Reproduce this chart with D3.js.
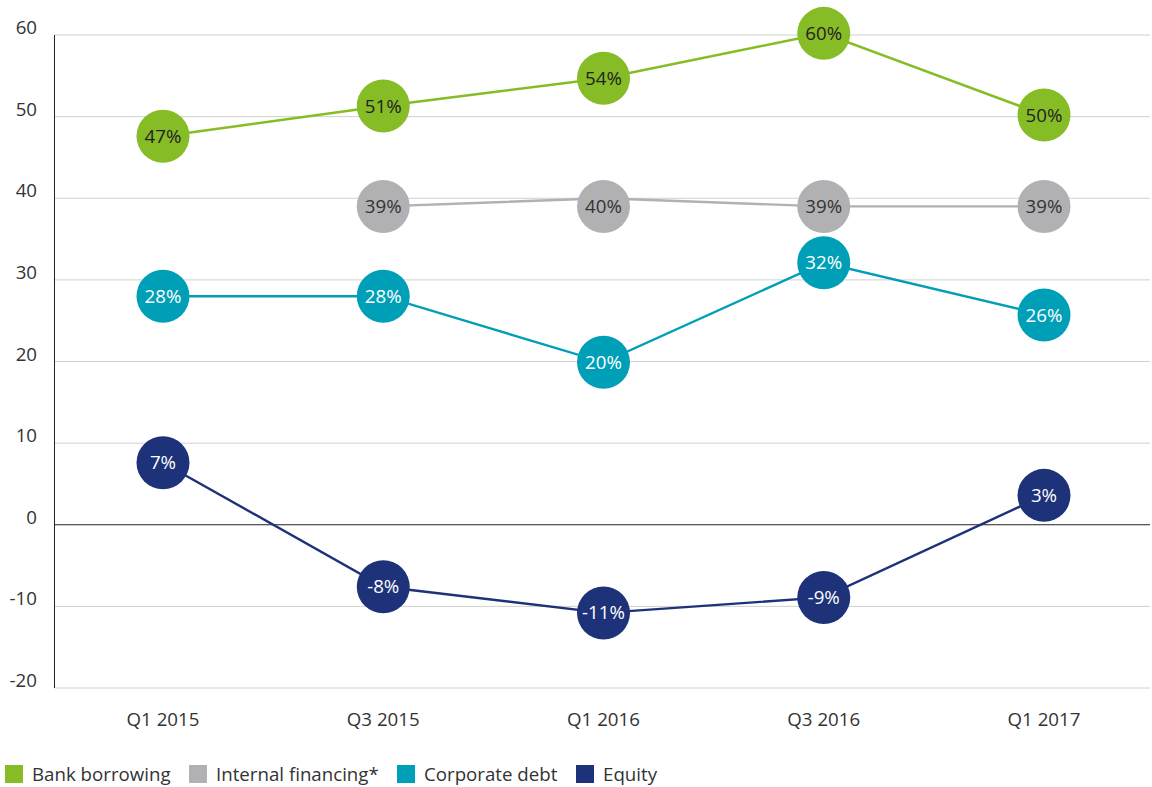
<!DOCTYPE html>
<html><head><meta charset="utf-8">
<script src="https://cdn.jsdelivr.net/npm/d3@7"></script>
<style>body{margin:0;background:#fff;font-family:"Open Sans",sans-serif;}</style>
</head><body><svg id="c" width="1152" height="787"></svg>
<script>
const categories = ["Q1 2015","Q3 2015","Q1 2016","Q3 2016","Q1 2017"];
const bankBorrowing = [47.6, 51.3, 54.7, 60.2, 50.2];
const bankLabels = ["47%","51%","54%","60%","50%"];
const internalFinancing = [null, 39.0, 40.0, 39.0, 39.0];
const internalLabelPos = [null, 39.0, 39.0, 39.0, 39.0];
const internalLabels = [null,"39%","40%","39%","39%"];
const corporateDebt = [28.0, 28.0, 19.9, 32.1, 25.7];
const corporateLabels = ["28%","28%","20%","32%","26%"];
const equity = [7.6, -7.6, -10.8, -8.9, 3.6];
const equityLabels = ["7%","-8%","-11%","-9%","3%"];
const yTicks = [-20,-10,0,10,20,30,40,50,60];
const seriesNames = ["Bank borrowing","Internal financing*","Corporate debt","Equity"];
const seriesColors = ["#86bc25","#b1b1b3","#009fb8","#1d3278"];
const textColors = ["#222","#333","#fff","#fff"];

const svg = d3.select("#c");
const L = 55, R = 1150, T = 35, B = 688;
const x = d3.scalePoint().domain(categories).range([163, 1044]);
const y = d3.scaleLinear().domain([-20, 60]).range([B, T]);
const FS = 18.7;

svg.append("g").selectAll("line").data(yTicks.filter(d => d !== 0)).join("line")
  .attr("x1", L).attr("x2", R).attr("y1", d => y(d)).attr("y2", d => y(d))
  .attr("stroke", "#d0d0d0").attr("stroke-width", 1);
svg.append("line").attr("x1", L).attr("x2", R).attr("y1", y(0)).attr("y2", y(0))
  .attr("stroke", "#222").attr("stroke-width", 1);
svg.append("line").attr("x1", L - 0.5).attr("x2", L - 0.5).attr("y1", T).attr("y2", B)
  .attr("stroke", "#222").attr("stroke-width", 1);

svg.append("g").selectAll("text").data(yTicks).join("text")
  .attr("x", 37).attr("y", d => y(d) - 1)
  .attr("text-anchor", "end").attr("font-size", FS).attr("fill", "#333")
  .text(d => d);

svg.append("g").selectAll("text").data(categories).join("text")
  .attr("x", d => x(d)).attr("y", 726)
  .attr("text-anchor", "middle").attr("font-size", FS).attr("fill", "#333")
  .text(d => d);

const series = [
  {vals: bankBorrowing, pos: bankBorrowing, labels: bankLabels},
  {vals: internalFinancing, pos: internalLabelPos, labels: internalLabels},
  {vals: corporateDebt, pos: corporateDebt, labels: corporateLabels},
  {vals: equity, pos: equity, labels: equityLabels}
];
const cx = i => x(categories[i]);
const line = d3.line().defined(d => d.v !== null).x(d => cx(d.i)).y(d => y(d.v));

series.forEach((s, k) => {
  const pts = s.vals.map((v, i) => ({v, p: s.pos[i], i, l: s.labels[i]}));
  const g = svg.append("g");
  g.append("path").attr("d", line(pts)).attr("fill", "none")
    .attr("stroke", seriesColors[k]).attr("stroke-width", 2.4);
  const p = pts.filter(d => d.v !== null);
  g.selectAll("circle").data(p).join("circle")
    .attr("cx", d => cx(d.i)).attr("cy", d => y(d.p)).attr("r", 26.5)
    .attr("fill", seriesColors[k]);
  g.selectAll("text").data(p).join("text")
    .attr("x", d => cx(d.i)).attr("y", d => y(d.p)).attr("dy", "0.35em")
    .attr("text-anchor", "middle").attr("font-size", FS).attr("fill", textColors[k])
    .text(d => d.l);
});

const legX = [5, 189, 397, 576];
const lg = svg.append("g");
seriesNames.forEach((n, k) => {
  lg.append("rect").attr("x", legX[k]).attr("y", 765).attr("width", 18).attr("height", 18)
    .attr("fill", seriesColors[k]);
  lg.append("text").attr("x", legX[k] + 27).attr("y", 781).attr("font-size", FS)
    .attr("fill", "#333").text(n);
});
</script></body></html>
